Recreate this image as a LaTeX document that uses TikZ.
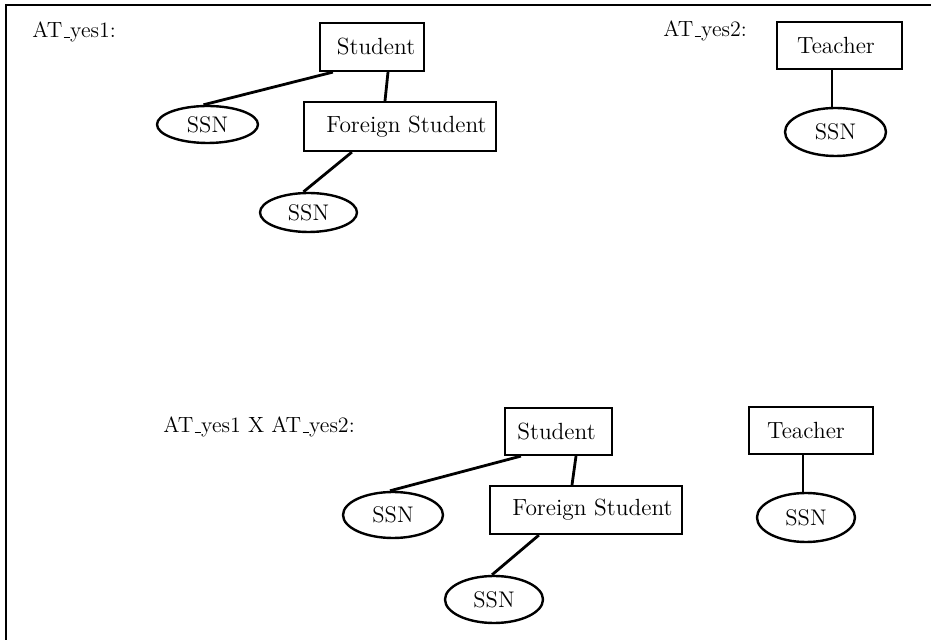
\documentclass[tikz,border=0pt]{standalone}
\usetikzlibrary{shapes.geometric}
% classic short underscore sitting on the baseline
\newcommand\ulbar{\leavevmode\kern.06em\vbox{\hrule width.3em}}
\begin{document}
\begin{tikzpicture}[x=0.5pt,y=-0.5pt,
  entity/.style={draw,line width=1.1pt,rectangle,inner sep=0pt,
    font=\fontsize{11.7}{14}\selectfont},
  attr/.style={draw,line width=1.2pt,ellipse,inner sep=0pt,
    font=\fontsize{11.3}{14}\selectfont},
  schemalabel/.style={anchor=base west,inner sep=0pt,
    font=\fontsize{11}{13}\selectfont},
  link/.style={line width=1.4pt},
  padleft/.style={execute at begin node={\hspace*{#1}}},
  padright/.style={execute at end node={\hspace*{#1}}}]
\useasboundingbox (0,0) rectangle (931,640);

% open frame: left and top edges only
\coordinate (fbl) at (6,640);
\coordinate (ftl) at (6,5);
\coordinate (ftr) at (931,5);
\draw[line width=1.3pt] (fbl) -- (ftl) -- (ftr);

% ---------- AT_yes1 ----------
\node[schemalabel] (lab1) at (32,38) {AT\ulbar yes1:};
\node[entity,padleft=4pt,minimum width=52pt,minimum height=24pt] (stu1) at (372,47) {Student};
\node[attr,minimum width=50.5pt,minimum height=18.5pt] (ssn1a) at (207.5,124.5) {SSN};
\node[entity,padleft=6.5pt,minimum width=96pt,minimum height=24.5pt] (fs1) at (400,126.5) {Foreign Student};
\node[attr,minimum width=48.5pt,minimum height=19.5pt] (ssn1b) at (308.5,212.5) {SSN};
\draw[link] ([xshift=7pt]stu1.south west) -- ([xshift=-2pt]ssn1a.north);
\draw[link] ([xshift=8pt]stu1.south) -- ([xshift=-7.5pt]fs1.north);
\draw[link] ([xshift=24.5pt]fs1.south west) -- ([xshift=-2.5pt]ssn1b.north);

% ---------- AT_yes2 ----------
\node[schemalabel] (lab2) at (663,37) {AT\ulbar yes2:};
\node[entity,padright=3.5pt,minimum width=62.5pt,minimum height=23.5pt] (tea2) at (839.5,45.5) {Teacher};
\node[attr,minimum width=50.5pt,minimum height=24pt] (ssn2) at (835.5,132) {SSN};
\draw[link] ([xshift=-3.75pt]tea2.south) -- ([xshift=-3.75pt]tea2.south |- ssn2.north);

% ---------- AT_yes1 X AT_yes2 ----------
\node[schemalabel] (lab3) at (163,433) {AT\ulbar yes1 X AT\ulbar yes2:};
\node[entity,padright=2pt,minimum width=53.5pt,minimum height=23.5pt] (stu3) at (558.5,431.5) {Student};
\node[attr,minimum width=50pt,minimum height=23pt] (ssn3a) at (393,515) {SSN};
\node[entity,padleft=6.5pt,minimum width=96pt,minimum height=24pt] (fs3) at (586,510) {Foreign Student};
\node[attr,minimum width=49pt,minimum height=23.5pt] (ssn3b) at (494,599.5) {SSN};
\node[entity,padright=5pt,minimum width=62pt,minimum height=23.5pt] (tea3) at (811,430.5) {Teacher};
\node[attr,minimum width=49pt,minimum height=24.5pt] (ssn3c) at (806,517.5) {SSN};
\draw[link] ([xshift=8.5pt]stu3.south west) -- ([xshift=-1.5pt]ssn3a.north);
\draw[link] ([xshift=8.75pt]stu3.south) -- ([xshift=-7pt]fs3.north);
\draw[link] ([xshift=25pt]fs3.south west) -- ([xshift=-1pt]ssn3b.north);
\draw[link] ([xshift=-4pt]tea3.south) -- ([xshift=-4pt]tea3.south |- ssn3c.north);
\end{tikzpicture}
\end{document}
